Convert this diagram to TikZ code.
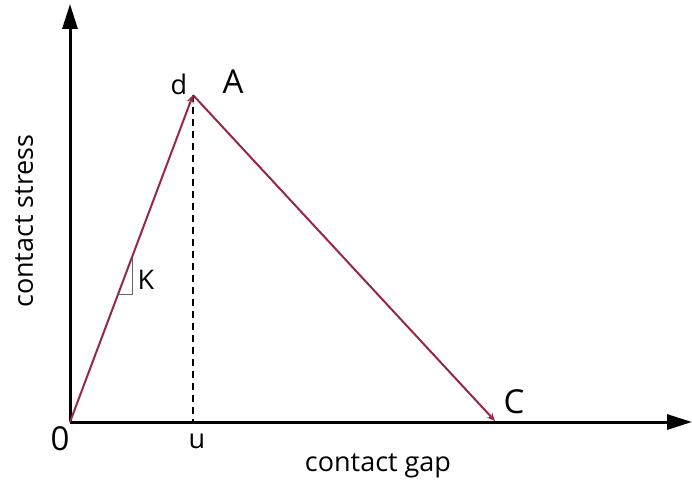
\documentclass[tikz,border=0pt]{standalone}
\usepackage{fontspec}
\setmainfont{Open Sans}
\usepackage{xcolor}
\usetikzlibrary{arrows.meta,positioning,calc}
\definecolor{curvered}{RGB}{150,40,70}

\begin{document}
\begin{tikzpicture}[
  x=1pt, y=-1pt,
  axis/.style={line width=3pt, -{Triangle[length=25pt, width=15pt]}},
  curve/.style={line width=2pt, color=curvered, -{Stealth[length=8pt, width=7pt]}},
  guide/.style={line width=2pt, dashed, dash pattern=on 7pt off 5pt},
  label/.style={inner sep=0pt, font=\fontsize{27}{30}\selectfont},
  biglabel/.style={inner sep=0pt, font=\fontsize{33}{36}\selectfont},
]
\useasboundingbox (0,0) rectangle (692,484);

\coordinate (o) at (70,422);
\coordinate (ytop) at (70,4);
\coordinate (xend) at (692,422);
\coordinate (peak) at (193,95);
\coordinate (zero) at (495,421);
\coordinate (ubase) at (193,422);

\draw[axis] (o) -- (ytop);
\draw[axis] (o) -- (xend);

\draw[guide] (peak) -- (ubase);
\draw[curve] (o) -- (peak);
\draw[curve] (peak) -- (zero);

% slope triangle
\coordinate (k1) at (118,294);
\coordinate (k2) at (132,294);
\coordinate (k3) at (132,258);
\draw[line width=1pt, gray!80!black] (k1) -- (k2) -- (k3);

\node[label] (lk) at (146,280) {K};
\node[label] (ld) at (179,84) {d};
\node[biglabel] (la) at (233,82) {A};
\node[biglabel] (lc) at (514,402) {C};
\node[biglabel] (l0) at (60,439) {0};
\node[label] (lu) at (197,441) {u};
\node[label] (lgap) at (378,466) {contact gap};
\node[label, rotate=90] (lstress) at (24,221) {contact stress};
\end{tikzpicture}
\end{document}
